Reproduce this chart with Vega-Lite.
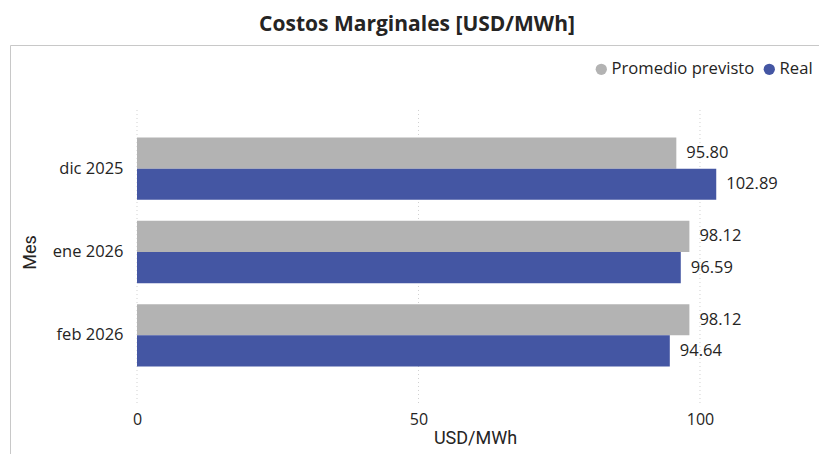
{
  "$schema": "https://vega.github.io/schema/vega-lite/v6.json",
  "width": 814,
  "height": 414,
  "autosize": {"type": "none"},
  "padding": {"left": 10, "top": 45, "right": -5, "bottom": -5},
  "background": "white",
  "config": {"view": {"stroke": "#C8C8C8", "strokeWidth": 1}, "font": "Open Sans"},
  "title": {"text": "Costos Marginales [USD/MWh]", "fontSize": 21, "fontWeight": "bold", "font": "Open Sans", "color": "#252423", "offset": 10, "anchor": "middle"},
  "layer": [
    {
      "data": {"values": [{"tick": 0}, {"tick": 50}, {"tick": 100}]},
      "mark": {"type": "rule", "color": "#CFCFCF", "strokeDash": [1, 3], "strokeWidth": 1},
      "encoding": {
        "x": {"field": "tick", "type": "quantitative", "scale": {"domain": [-22.56, 122.03], "nice": false, "zero": false},
          "axis": {"title": "USD/MWh", "values": [0, 50, 100], "grid": false, "domain": false, "ticks": false, "offset": -50, "labelPadding": 2, "labelFontSize": 16, "labelColor": "#252423", "labelFont": "Open Sans", "titleFont": "Roboto", "titleFontSize": 18, "titleFontWeight": "normal", "titleColor": "#252423", "titlePadding": 2, "titleX": 465}},
        "y": {"datum": 0, "type": "quantitative", "scale": {"domain": [-0.1893, 1.2095], "nice": false, "zero": false}, "axis": null},
        "y2": {"datum": 1}
      }
    },
    {
      "data": {"values": [
        {"mes": "dic 2025", "serie": "Promedio previsto", "valor": 95.80},
        {"mes": "dic 2025", "serie": "Real", "valor": 102.89},
        {"mes": "ene 2026", "serie": "Promedio previsto", "valor": 98.12},
        {"mes": "ene 2026", "serie": "Real", "valor": 96.59},
        {"mes": "feb 2026", "serie": "Promedio previsto", "valor": 98.12},
        {"mes": "feb 2026", "serie": "Real", "valor": 94.64}
      ]},
      "encoding": {
        "y": {"field": "mes", "type": "nominal", "sort": null, "scale": {"paddingInner": 0, "paddingOuter": 0.985},
          "axis": {"title": "Mes", "offset": -127, "domain": false, "ticks": false, "grid": false, "labelPadding": 14, "labelFontSize": 16.5, "labelColor": "#252423", "labelFont": "Open Sans", "titleFont": "Roboto", "titleFontSize": 18, "titleFontWeight": "normal", "titleColor": "#252423", "titlePadding": 13}},
        "yOffset": {"field": "serie", "type": "nominal", "sort": ["Promedio previsto", "Real"], "scale": {"paddingInner": 0, "paddingOuter": 0.337}},
        "x": {"field": "valor", "type": "quantitative", "stack": null,
          "axis": {"title": "USD/MWh", "values": [0, 50, 100], "grid": false, "domain": false, "ticks": false, "offset": -50, "labelPadding": 2, "labelFontSize": 16, "labelColor": "#252423", "labelFont": "Open Sans", "titleFont": "Roboto", "titleFontSize": 18, "titleFontWeight": "normal", "titleColor": "#252423", "titlePadding": 2, "titleX": 465}}
      },
      "layer": [
        {
          "mark": {"type": "bar"},
          "encoding": {
            "color": {"field": "serie", "type": "nominal", "scale": {"domain": ["Promedio previsto", "Real"], "range": ["#B3B3B3", "#4456A3"]},
              "legend": {"title": null, "orient": "none", "legendX": 583, "legendY": 16, "direction": "horizontal", "symbolType": "circle", "symbolSize": 127, "symbolStrokeWidth": 0, "labelFontSize": 16.6, "labelColor": "#252423", "labelFont": "Open Sans", "columnPadding": 6, "labelOffset": 2, "padding": 0}}
          }
        },
        {
          "mark": {"type": "text", "align": "left", "baseline": "middle", "dx": 10, "fontSize": 16.5, "color": "#252423", "font": "Open Sans"},
          "encoding": {"text": {"field": "valor", "type": "quantitative", "format": ".2f"}}
        }
      ]
    }
  ],
  "resolve": {"scale": {"y": "independent"}, "axis": {"y": "independent"}}
}
